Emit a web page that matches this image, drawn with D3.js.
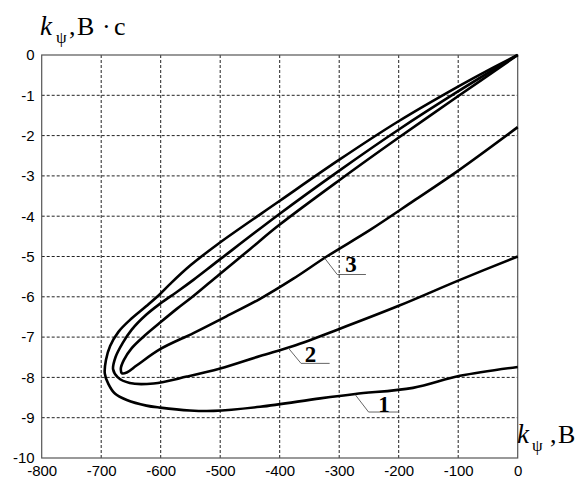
<!DOCTYPE html>
<html><head><meta charset="utf-8">
<script src="https://cdn.jsdelivr.net/npm/d3@7"></script>
<style>
html,body{margin:0;padding:0;background:#fff;}
svg{display:block;}
</style></head>
<body>
<svg id="c" width="576" height="479"></svg>
<script>
// ---- data ----
const xTicks = [-800,-700,-600,-500,-400,-300,-200,-100,0];
const yTicks = [-10,-9,-8,-7,-6,-5,-4,-3,-2,-1,0];

const curve1X = [0,-50,-101,-201,-301,-401,-502,-550,-584,-601,-624,-652,-671,-685,-692,-694,-688,-677,-657,-624,-601,-551,-511,-433,-332,-273,-176,-97,0];
const curve1Y = [0,-0.38,-0.79,-1.65,-2.61,-3.63,-4.67,-5.22,-5.68,-5.93,-6.23,-6.58,-6.87,-7.22,-7.57,-7.90,-8.16,-8.40,-8.56,-8.70,-8.75,-8.82,-8.83,-8.73,-8.52,-8.41,-8.26,-7.96,-7.74];

const curve2X = [0,-101,-201,-301,-401,-502,-545,-570,-601,-624,-649,-664,-676,-680,-672,-652,-612,-556,-500,-433,-377,-302,-201,-97,0];
const curve2Y = [0,-0.91,-1.86,-2.88,-3.95,-5.09,-5.58,-5.85,-6.17,-6.44,-6.82,-7.15,-7.50,-7.80,-8.00,-8.14,-8.15,-7.98,-7.78,-7.47,-7.22,-6.81,-6.23,-5.58,-5.00];

const curve3X = [0,-101,-201,-301,-401,-451,-502,-545,-573,-601,-629,-649,-662,-667,-665,-657,-640,-601,-545,-489,-433,-377,-321,-248,-175,-101,0];
const curve3Y = [0,-1.03,-2.06,-3.12,-4.22,-4.83,-5.45,-5.98,-6.30,-6.64,-6.99,-7.28,-7.57,-7.78,-7.90,-7.88,-7.70,-7.30,-6.90,-6.48,-6.05,-5.55,-5.00,-4.34,-3.62,-2.88,-1.79];

const curveNames = ["1","2","3"];
// anchor points on curves for the number labels (data units)
const labelAnchorX = [-273,-385,-324];
const labelAnchorY = [-8.43,-7.28,-5.05];

// ---- layout ----
const svg = d3.select("#c");
const L = 41.7, R = 517.7, T = 55, B = 458;
const x = d3.scaleLinear().domain([-800,0]).range([L,R]);
const y = d3.scaleLinear().domain([-10,0]).range([B,T]);

// grid
const grid = svg.append("g");
grid.selectAll("line.v").data(xTicks.slice(1,-1)).join("line")
  .attr("x1",d=>x(d)).attr("x2",d=>x(d)).attr("y1",T).attr("y2",B)
  .attr("stroke","#222").attr("stroke-width",1).attr("stroke-dasharray","3,2");
grid.selectAll("line.h").data(yTicks.slice(1,-1)).join("line")
  .attr("y1",d=>y(d)).attr("y2",d=>y(d)).attr("x1",L).attr("x2",R)
  .attr("stroke","#222").attr("stroke-width",1).attr("stroke-dasharray","3,2");

// frame
svg.append("rect").attr("x",L).attr("y",T).attr("width",R-L).attr("height",B-T)
  .attr("fill","none").attr("stroke","#555").attr("stroke-width",1.2);

// axes (labels only)
const fontTick = "'Liberation Sans', Arial, sans-serif";
const fmt = d => String(d);
const xa = svg.append("g").attr("transform",`translate(0,${B})`)
  .call(d3.axisBottom(x).tickValues(xTicks).tickSize(0).tickPadding(7).tickFormat(fmt));
xa.select(".domain").remove();
xa.selectAll("text").attr("font-family",fontTick).attr("font-size",15).attr("fill","#000");
const ya = svg.append("g").attr("transform",`translate(${L},0)`)
  .call(d3.axisLeft(y).tickValues(yTicks).tickSize(0).tickPadding(7).tickFormat(fmt));
ya.select(".domain").remove();
ya.selectAll("text").attr("font-family",fontTick).attr("font-size",15).attr("fill","#000");

// curves
const line = d3.line().x(d=>x(d[0])).y(d=>y(d[1])).curve(d3.curveCatmullRom.alpha(0.5));
[[curve1X,curve1Y],[curve2X,curve2Y],[curve3X,curve3Y]].forEach(([cx,cy])=>{
  svg.append("path").datum(cx.map((v,i)=>[v,cy[i]]))
    .attr("d",line).attr("fill","none").attr("stroke","#000")
    .attr("stroke-width",2.6).attr("stroke-linejoin","round");
});

// leaders + labels
const serif = "'Liberation Serif','Times New Roman',serif";
const leaderDX=[13.3,12.4,12.3], leaderDY=[17.3,15,16], leaderLen=[30,28.6,28.7], txtDX=[15.5,9.5,13.8], txtDY=[0,-1,-3];
curveNames.forEach((n,i)=>{
  const ax=x(labelAnchorX[i]), ay=y(labelAnchorY[i]);
  const ex=ax+leaderDX[i], ey=ay+leaderDY[i];
  svg.append("polyline").attr("points",`${ax},${ay} ${ex},${ey} ${ex+leaderLen[i]},${ey}`)
    .attr("fill","none").attr("stroke","#666").attr("stroke-width",1);
  svg.append("text").attr("x",ex+txtDX[i]).attr("y",ey+txtDY[i]).attr("text-anchor","middle")
    .attr("font-family",serif).attr("font-weight","bold").attr("font-size",23).text(n);
});

// axis titles
function title(x0, base, parts){
  const t = svg.append("text").attr("font-family",serif).attr("y",base).attr("fill","#000");
  parts.forEach(p=>{
    t.append("tspan").attr("x",x0+p.dx).attr("y",base+(p.dy||0))
      .attr("font-size",p.size).attr("font-style",p.italic?"italic":"normal").text(p.t);
  });
}
title(40, 35, [
  {t:"k",dx:0,size:27,italic:true},
  {t:"ψ",dx:16,dy:8,size:17},
  {t:",",dx:29,size:26},
  {t:"B",dx:37,size:26},
  {t:"·",dx:62,size:26},
  {t:"c",dx:74,size:26}
]);
title(517, 443, [
  {t:"k",dx:0,size:27,italic:true},
  {t:"ψ",dx:15,dy:8,size:17},
  {t:",",dx:33,size:26},
  {t:"B",dx:41,size:26}
]);
</script>
</body></html>
